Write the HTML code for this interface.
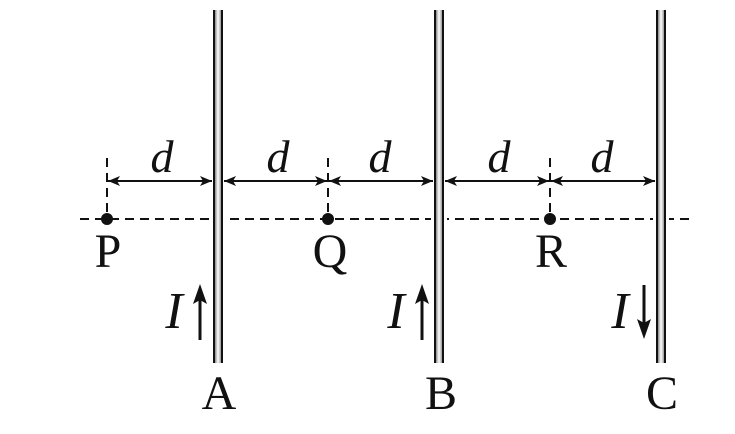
<!DOCTYPE html>
<html><head><style>body{margin:0;background:#fff}svg{display:block}</style></head>
<body>
<svg width="735" height="434" viewBox="0 0 735 434" xmlns="http://www.w3.org/2000/svg">
<defs>
<linearGradient id="g" x1="0" x2="1"><stop offset="0" stop-color="#888"/><stop offset="0.5" stop-color="#fff"/><stop offset="1" stop-color="#999"/></linearGradient>
<marker id="ah" viewBox="0 0 12 10" refX="12" refY="5" markerWidth="12" markerHeight="10" markerUnits="userSpaceOnUse" orient="auto-start-reverse"><path d="M0,0 L12,5 L0,10 L3,5 Z" fill="#111"/></marker>
</defs>
<g stroke="#111" stroke-width="2" stroke-dasharray="9,6" fill="none">
<line x1="80" y1="219" x2="695" y2="219"/>
<line x1="107" y1="158" x2="107" y2="212"/>
<line x1="328" y1="158" x2="328" y2="212"/>
<line x1="550" y1="158" x2="550" y2="212"/>
</g>
<g fill="#fff"><rect x="210" y="214" width="16" height="10"/><rect x="431" y="214" width="16" height="10"/><rect x="653" y="214" width="16" height="10"/></g>
<g>
<rect x="213" y="10" width="10" height="353" fill="#111"/><rect x="215" y="10" width="6" height="353" fill="url(#g)"/>
<rect x="434" y="10" width="10" height="353" fill="#111"/><rect x="436" y="10" width="6" height="353" fill="url(#g)"/>
<rect x="656" y="10" width="10" height="353" fill="#111"/><rect x="658" y="10" width="6" height="353" fill="url(#g)"/>
</g>
<g stroke="#111" stroke-width="2" marker-start="url(#ah)" marker-end="url(#ah)">
<line x1="108" y1="181" x2="212" y2="181"/>
<line x1="224" y1="181" x2="327" y2="181"/>
<line x1="329" y1="181" x2="433" y2="181"/>
<line x1="445" y1="181" x2="549" y2="181"/>
<line x1="551" y1="181" x2="655" y2="181"/>
</g>
<g fill="#111"><circle cx="107" cy="219" r="6"/><circle cx="328" cy="219" r="6"/><circle cx="550" cy="219" r="6"/></g>
<g stroke="#111" stroke-width="3">
<line x1="200" y1="340" x2="200" y2="298"/>
<line x1="422" y1="340" x2="422" y2="298"/>
<line x1="644" y1="285" x2="644" y2="325"/>
</g>
<g fill="#111">
<path d="M200,284 L207,304 L200,300 L193,304 Z"/>
<path d="M422,284 L429,304 L422,300 L415,304 Z"/>
<path d="M644,339 L651,319 L644,323 L637,319 Z"/>
</g>
<g font-family="Liberation Serif, serif" fill="#111">
<g font-style="italic" font-size="46" text-anchor="middle">
<text x="162" y="172">d</text><text x="278" y="172">d</text><text x="380" y="172">d</text><text x="499" y="172">d</text><text x="602" y="172">d</text>
</g>
<g font-style="italic" font-size="52" text-anchor="middle">
<text x="174" y="328">I</text><text x="396" y="328">I</text><text x="620" y="328">I</text>
</g>
<g font-size="48" text-anchor="middle">
<text x="108" y="267">P</text><text x="330" y="267">Q</text><text x="551" y="267">R</text>
<text x="219" y="409">A</text><text x="441" y="409">B</text><text x="662" y="409">C</text>
</g>
</g>
</svg>
</body></html>
